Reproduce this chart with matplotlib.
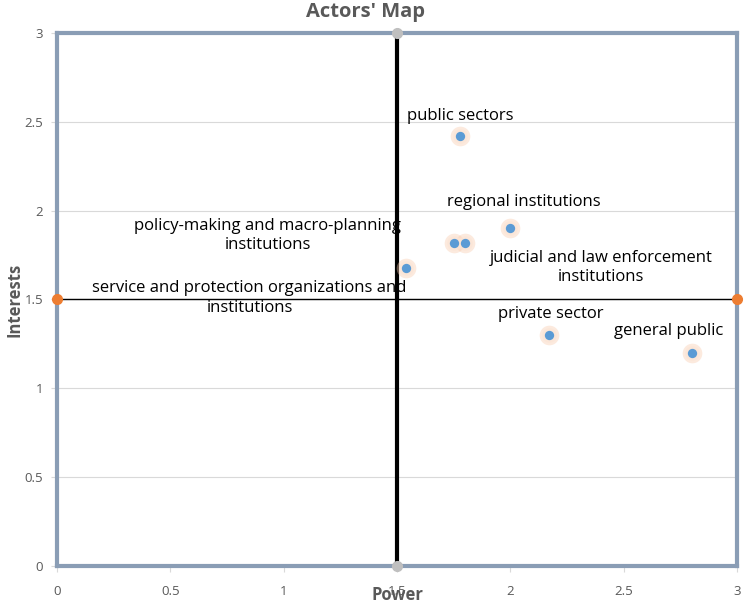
import matplotlib
matplotlib.use("Agg")
import matplotlib.pyplot as plt

# actor data (power, interests)
actors = [
    "public sectors",
    "regional institutions",
    "policy-making and macro-planning\ninstitutions",
    "judicial and law enforcement\ninstitutions",
    "service and protection organizations and\ninstitutions",
    "private sector",
    "general public",
]
power = [1.78, 2.0, 1.75, 1.80, 1.54, 2.17, 2.80]
interests = [2.42, 1.90, 1.82, 1.82, 1.68, 1.30, 1.20]

# label anchor points (centre of text) in data units
label_x = [1.78, 2.06, 0.93, 2.40, 0.85, 2.18, 2.70]
label_y = [2.53, 2.05, 1.86, 1.68, 1.51, 1.42, 1.32]

xticks = [0, 0.5, 1, 1.5, 2, 2.5, 3]
xtick_labels = ["0", "0.5", "1", "1.5", "2", "2.5", "3"]
yticks = [0, 0.5, 1, 1.5, 2, 2.5, 3]
ytick_labels = ["0", "0.5", "1", "1.5", "2", "2.5", "3"]

plt.rcParams["font.family"] = ["Open Sans", "DejaVu Sans"]
grey = "#595959"
frame = "#8A9DB5"

fig = plt.figure(figsize=(7.44, 6.04), dpi=100)
ax = fig.add_axes([0.0766, 0.0629, 0.914, 0.8825])

ax.set_xlim(0, 3)
ax.set_ylim(0, 3)
for yv in yticks:
    ax.axhline(yv, color="#D9D9D9", lw=0.8, zorder=0)

# quadrant lines
ax.plot([1.5, 1.5], [0, 3], color="black", lw=3, zorder=2, clip_on=False)
ax.plot([1.5, 1.5], [0, 3], "o", color="#BFBFBF", ms=7, zorder=5, clip_on=False)
ax.plot([0, 3], [1.5, 1.5], color="black", lw=1, zorder=2, clip_on=False)
ax.plot([0, 3], [1.5, 1.5], "o", color="#ED7D31", ms=7, zorder=5, clip_on=False)

# points with soft glow
ax.scatter(power, interests, s=200, color="#F8CBAD", alpha=0.4, lw=0, zorder=3)
ax.scatter(power, interests, s=110, color="#FBE5D6", alpha=0.7, lw=0, zorder=3)
ax.scatter(power, interests, s=45, color="#5B9BD5", lw=0, zorder=4)

for name, lx, ly in zip(actors, label_x, label_y):
    ax.text(lx, ly, name, ha="center", va="center", fontsize=12,
            color="black", linespacing=1.3, zorder=6)

for sp in ax.spines.values():
    sp.set_color(frame)
    sp.set_linewidth(3)

ax.set_xticks(xticks)
ax.set_xticklabels(xtick_labels)
ax.set_yticks(yticks)
ax.set_yticklabels(ytick_labels)
ax.tick_params(colors=grey, labelsize=9.5, length=4, width=0.8)
ax.tick_params(axis="x", pad=10, color="#D9D9D9")
ax.tick_params(axis="y", pad=6, color="#D9D9D9")

fig.text(0.5336, 0.015, "Power", ha="center", va="center",
         fontsize=12, fontweight="bold", color=grey)
fig.text(0.02, 0.504, "Interests", ha="center", va="center", rotation=90,
         fontsize=12, fontweight="bold", color=grey)
fig.text(0.4906, 0.98, "Actors' Map", ha="center", va="center",
         fontsize=14.5, fontweight="bold", color=grey)

fig.savefig("out.png", dpi=100)
